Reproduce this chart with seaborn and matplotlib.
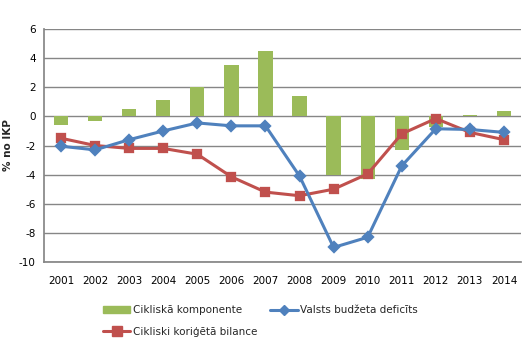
import matplotlib
matplotlib.use("Agg")
import matplotlib.pyplot as plt
import seaborn as sns
import pandas as pd
from matplotlib.patches import Patch
from matplotlib.lines import Line2D

years = [str(y) for y in range(2001, 2015)]
cikliska = [-0.6, -0.3, 0.5, 1.1, 2.05, 3.5, 4.5, 1.4, -4.0, -4.3, -2.3, -0.7, 0.1, 0.4]
deficits = [-2.05, -2.3, -1.6, -1.0, -0.45, -0.65, -0.65, -4.1, -9.0, -8.3, -3.4, -0.85, -0.9, -1.1]
bilance = [-1.5, -2.0, -2.2, -2.2, -2.6, -4.15, -5.2, -5.45, -5.0, -3.95, -1.2, -0.15, -1.1, -1.6]

labels = ["Cikliskā komponente", "Valsts budžeta deficīts", "Cikliski koriģētā bilance"]
c_green, c_blue, c_red = "#9BBB59", "#4F81BD", "#C0504D"

df = pd.DataFrame({"year": years, "c": cikliska, "d": deficits, "b": bilance})

sns.set_theme(style="white")
plt.rcParams["font.family"] = ["DejaVu Sans"]
plt.rcParams["axes.unicode_minus"] = False

fig = plt.figure(figsize=(5.28, 3.49), dpi=100)
ax = fig.add_axes([44/528, 1 - 262/349, (521-44)/528, (262-29)/349])

sns.barplot(data=df, x="year", y="c", color=c_green, width=0.42, saturation=1,
            linewidth=0, edgecolor="none", ax=ax, zorder=2)
sns.pointplot(data=df, x="year", y="d", color=c_blue, markers="D", markersize=5,
              linewidth=2.2, ax=ax, zorder=4)
sns.pointplot(data=df, x="year", y="b", color=c_red, markers="s", markersize=6,
              linewidth=2.2, ax=ax, zorder=3)

ax.set_ylim(-10, 6)
ax.set_yticks(range(-10, 7, 2))
ax.set_xlim(-0.5, len(years) - 0.5)
ax.yaxis.grid(True, color="#868686", linewidth=1)
ax.set_axisbelow(True)
for s in ["top", "right"]:
    ax.spines[s].set_visible(False)
for s in ["left", "bottom"]:
    ax.spines[s].set_color("#868686")
ax.set_xlabel("")
ax.set_ylabel("% no IKP", fontsize=7.5, fontweight="bold")
ax.yaxis.set_label_coords(-0.065, 0.5)
ax.tick_params(axis="both", labelsize=7.5, colors="black", length=0, pad=6)
ax.tick_params(axis="x", pad=10)

handles = [
    Patch(color=c_green),
    Line2D([], [], color=c_red, marker="s", markersize=6.5, linewidth=2.2),
    Line2D([], [], color=c_blue, marker="D", markersize=5, linewidth=2.2),
]
fig.legend(handles, [labels[0], labels[2], labels[1]], ncol=2, frameon=False,
           fontsize=7.5, loc="upper left", bbox_to_anchor=(94/528, 1 - 296/349),
           handlelength=2.6, handletextpad=0.2, columnspacing=1.3, labelspacing=1.1)

fig.savefig("out.png", dpi=100)
